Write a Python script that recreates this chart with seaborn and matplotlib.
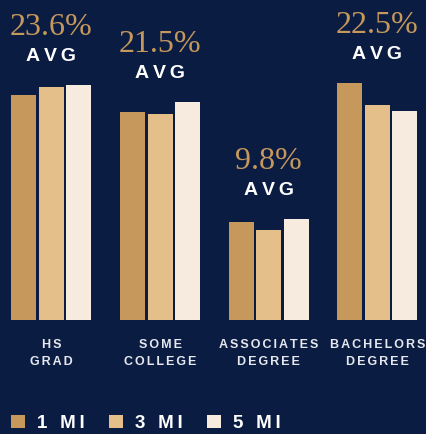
import matplotlib
matplotlib.use("Agg")
import matplotlib.pyplot as plt
import seaborn as sns
import pandas as pd

# Educational attainment share (%) by radius around the site
categories = ["HS\nGRAD", "SOME\nCOLLEGE", "ASSOCIATES\nDEGREE", "BACHELORS\nDEGREE"]
radii = ["1 MI", "3 MI", "5 MI"]
one_mi = [23.0, 21.2, 10.0, 24.2]
three_mi = [23.8, 21.0, 9.2, 22.0]
five_mi = [24.0, 22.3, 10.3, 21.3]

NAVY = "#0a1c42"
GOLD = "#c6985c"
palette = ["#c6985c", "#e5bf8a", "#f6ebde"]
THIN = "\u2009"
HAIR = "\u200a"


def spaced(text, sep=THIN):
    """Add letter spacing with narrow spaces, line by line."""
    return "\n".join(sep.join(line) for line in text.split("\n"))


df = pd.DataFrame({
    "category": categories * 3,
    "radius": [r for r in radii for _ in categories],
    "value": one_mi + three_mi + five_mi,
})

sns.set_theme(style="white")
plt.rcParams["font.family"] = ["Liberation Sans", "DejaVu Sans"]

fig = plt.figure(figsize=(4.27, 4.34), dpi=100, facecolor=NAVY)
ax = fig.add_axes([0, 114 / 434, 1, 320 / 434])
ax.set_facecolor(NAVY)

sns.barplot(data=df, x="category", y="value", hue="radius", hue_order=radii,
            order=categories, palette=palette, width=0.759, gap=0.09,
            saturation=1, linewidth=0, edgecolor=NAVY, ax=ax)

ax.set_xlim(-0.473, 3.457)
ax.set_ylim(0, 32.69)
for s in ax.spines.values():
    s.set_visible(False)
ax.set_yticks([])
ax.set_xlabel("")
ax.set_ylabel("")
ax.set_xticks(range(len(categories)))
ax.set_xticklabels([spaced(c, HAIR + HAIR) for c in categories], fontsize=9,
                   fontweight="bold", color="#e6e8ee", linespacing=1.55,
                   family=["Liberation Sans", "DejaVu Sans"])
ax.tick_params(axis="x", length=0, pad=14)

# Group average labels above each cluster
series = [one_mi, three_mi, five_mi]
for i in range(len(categories)):
    vals = [s[i] for s in series]
    avg = sum(vals) / len(vals)
    top = max(vals)
    ax.annotate(f"{avg:.1f}%", (i, top), xytext=(0, 36), textcoords="offset points",
                ha="center", va="baseline", fontsize=23, color=GOLD,
                family=["Liberation Serif", "DejaVu Serif"])
    ax.annotate(spaced("AVG"), (i, top), xytext=(0, 17.3), textcoords="offset points",
                ha="center", va="baseline", fontsize=14, fontweight="bold",
                color="white", family=["Liberation Sans", "DejaVu Sans"])

handles, _ = ax.get_legend_handles_labels()
ax.get_legend().remove()
fig.legend(handles, [spaced(r) for r in radii], loc="lower left",
           bbox_to_anchor=(11 / 427, 2 / 434), ncol=3, frameon=False,
           prop={"family": ["Liberation Sans", "DejaVu Sans"], "weight": "bold", "size": 13.5},
           labelcolor="white", handlelength=0.75, handleheight=0.75,
           handletextpad=0.64, columnspacing=1.3, borderpad=0, borderaxespad=0)

fig.savefig("out.png", dpi=100, facecolor=NAVY)
